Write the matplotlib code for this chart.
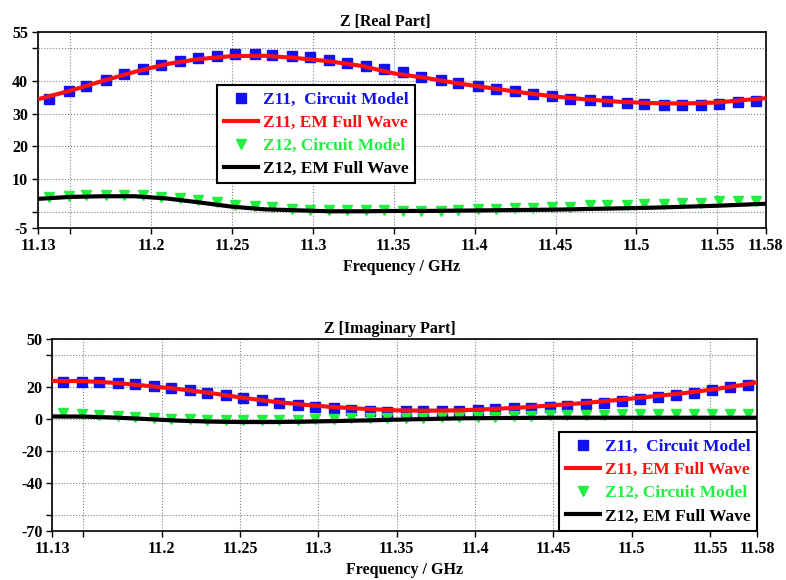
import matplotlib
matplotlib.use('Agg')
import matplotlib.pyplot as plt

plt.rcParams['font.family'] = ['Liberation Serif', 'DejaVu Serif']
plt.rcParams['font.weight'] = 'bold'
plt.rcParams['axes.labelweight'] = 'bold'
plt.rcParams['axes.titleweight'] = 'bold'

# frequency grid of the circuit model markers (GHz)
freq_circuit = [11.137, 11.149, 11.160, 11.172, 11.183, 11.195, 11.206, 11.218, 11.229, 11.241,
                11.252, 11.264, 11.275, 11.287, 11.298, 11.310, 11.321, 11.333, 11.344, 11.356,
                11.367, 11.379, 11.390, 11.402, 11.413, 11.425, 11.436, 11.448, 11.459, 11.471,
                11.482, 11.494, 11.505, 11.517, 11.528, 11.540, 11.551, 11.563, 11.574]

# frequency grid of the EM full wave curves (GHz)
freq_em = [11.13, 11.15, 11.17, 11.19, 11.21, 11.23, 11.25, 11.27, 11.29, 11.31, 11.33, 11.35,
           11.37, 11.39, 11.41, 11.43, 11.45, 11.47, 11.49, 11.51, 11.53, 11.55, 11.57, 11.58]

# Real part
z11_re_circuit = [34.6, 36.8, 38.3, 40.3, 42.1, 43.6, 44.9, 46.2, 47.0, 47.7,
                  48.2, 48.2, 48.0, 47.7, 47.2, 46.5, 45.5, 44.7, 43.6, 42.6,
                  41.3, 40.3, 39.4, 38.5, 37.5, 36.8, 36.0, 35.3, 34.6, 34.1,
                  33.7, 33.2, 32.9, 32.7, 32.7, 32.7, 32.9, 33.4, 33.9]
z11_re_em = [34.4, 37.0, 40.0, 42.8, 45.2, 46.7, 47.6, 47.7, 47.0, 46.0, 44.6, 42.3,
             40.9, 39.2, 37.8, 36.4, 35.2, 34.3, 33.6, 33.2, 33.1, 33.4, 34.3, 34.7]
z12_re_circuit = [4.4, 4.9, 5.2, 5.2, 5.2, 5.2, 4.6, 4.1, 3.5, 2.8,
                  2.1, 1.7, 1.5, 0.7, 0.5, 0.4, 0.4, 0.4, 0.4, 0.3,
                  0.3, 0.3, 0.5, 0.9, 0.9, 1.2, 1.2, 1.5, 1.5, 1.9,
                  1.9, 1.9, 2.4, 2.4, 2.6, 2.6, 3.1, 3.1, 3.3]
z12_re_em = [3.9, 4.5, 4.7, 4.7, 4.0, 2.8, 1.5, 0.7, 0.4, 0.1, 0.1, 0.2,
             0.2, 0.3, 0.4, 0.5, 0.6, 0.8, 1.0, 1.2, 1.5, 1.8, 2.2, 2.4]

# Imaginary part
z11_im_circuit = [23.3, 23.3, 23.3, 22.7, 21.9, 20.6, 19.2, 18.1, 16.5, 15.0,
                  13.3, 11.9, 10.2, 8.8, 7.7, 6.7, 5.6, 5.0, 4.6, 5.0,
                  5.0, 5.0, 5.2, 5.6, 6.0, 6.7, 7.1, 7.7, 8.2, 9.2,
                  10.2, 11.3, 12.5, 13.5, 15.0, 16.5, 18.1, 19.8, 21.3]
z11_im_em = [23.8, 23.7, 22.6, 20.8, 18.8, 16.4, 13.5, 11.0, 9.0, 7.4, 6.3, 5.4,
             5.2, 5.4, 6.2, 7.2, 8.6, 10.0, 11.8, 13.8, 15.8, 18.2, 21.2, 23.0]
z12_im_circuit = [3.5, 3.3, 2.5, 1.8, 1.4, 0.7, 0.1, -0.3, -0.6, -0.6,
                  -0.8, -0.8, -0.8, -0.5, -0.1, 0.3, 0.4, 0.5, 0.6, 0.8,
                  0.9, 1.0, 1.1, 1.3, 1.5, 1.7, 1.9, 2.2, 2.5, 2.7,
                  2.8, 2.9, 3.0, 3.0, 3.0, 3.0, 3.0, 3.0, 3.0]
z12_im_em = [1.6, 1.5, 0.9, 0.0, -1.0, -1.6, -1.9, -1.9, -1.7, -1.3, -0.9, -0.4,
             0.0, 0.4, 0.6, 0.7, 0.8, 0.8, 0.8, 0.8, 0.8, 0.8, 0.8, 0.8]

freq_ticks = [11.13, 11.15, 11.2, 11.25, 11.3, 11.35, 11.4, 11.45, 11.5, 11.55, 11.58]
freq_labels = ['11.13', '', '11.2', '11.25', '11.3', '11.35', '11.4', '11.45', '11.5', '11.55', '11.58']

re_ticks = [-5, 0, 10, 20, 30, 40, 50, 55]
re_labels = ['-5', '', '10', '20', '30', '40', '', '55']
im_ticks = [-70, -60, -40, -20, 0, 20, 40, 50]
im_labels = ['-70', '', '-40', '-20', '0', '20', '', '50']

labels = ['Z11,  Circuit Model', 'Z11, EM Full Wave', 'Z12, Circuit Model', 'Z12, EM Full Wave']
colors = ['#1010f0', '#ff1010', '#20f040', '#000000']


def draw_panel(ax, z11_c, z11_e, z12_c, z12_e):
    ax.plot(freq_circuit, z11_c, 's', color=colors[0], markersize=7, label=labels[0], zorder=3)
    ax.plot(freq_em, z11_e, '-', color=colors[1], linewidth=3, label=labels[1], zorder=4)
    ax.plot(freq_circuit, z12_c, 'v', color=colors[2], markersize=7, label=labels[2], zorder=3)
    ax.plot(freq_em, z12_e, '-', color=colors[3], linewidth=3, label=labels[3], zorder=4)
    ax.set_xlim(11.13, 11.58)
    ax.set_xticks(freq_ticks)
    ax.set_xticklabels(freq_labels)
    ax.grid(True, linestyle=':', color='0.5', linewidth=0.8)
    ax.tick_params(direction='out', length=4, width=1, labelsize=11.5, pad=3)
    for sp in ax.spines.values():
        sp.set_linewidth(1.2)
    ax.set_xlabel('Frequency / GHz', fontsize=11.5, labelpad=4)


def style_legend(leg):
    leg.get_frame().set_linewidth(1.5)
    for txt, c in zip(leg.get_texts(), colors):
        txt.set_color(c)


fig = plt.figure(figsize=(7.86, 5.8), dpi=100)

# top panel: real part
ax1 = fig.add_axes([0.0483, 0.607, 0.926, 0.338])
draw_panel(ax1, z11_re_circuit, z11_re_em, z12_re_circuit, z12_re_em)
ax1.set_ylim(-5, 55)
ax1.set_yticks(re_ticks)
ax1.set_yticklabels(re_labels)
ax1.set_title('Z [Real Part]', fontsize=11.5, x=0.477, pad=4)
leg1 = ax1.legend(loc='upper left', bbox_to_anchor=(0.246, 0.73), borderaxespad=0,
                  fontsize=12.5, handlelength=2.0, handletextpad=0.25, labelspacing=0.4,
                  borderpad=0.38, fancybox=False, framealpha=1, edgecolor='black', numpoints=1)
style_legend(leg1)

# bottom panel: imaginary part
ax2 = fig.add_axes([0.0662, 0.0845, 0.897, 0.331])
draw_panel(ax2, z11_im_circuit, z11_im_em, z12_im_circuit, z12_im_em)
ax2.set_ylim(-70, 50)
ax2.set_yticks(im_ticks)
ax2.set_yticklabels(im_labels)
ax2.set_title('Z [Imaginary Part]', fontsize=11.5, x=0.479, pad=4)
leg2 = ax2.legend(loc='lower right', bbox_to_anchor=(1, 0), borderaxespad=0,
                  fontsize=12.5, handlelength=2.0, handletextpad=0.25, labelspacing=0.4,
                  borderpad=0.38, fancybox=False, framealpha=1, edgecolor='black', numpoints=1)
style_legend(leg2)

fig.savefig('out.png', dpi=100)
